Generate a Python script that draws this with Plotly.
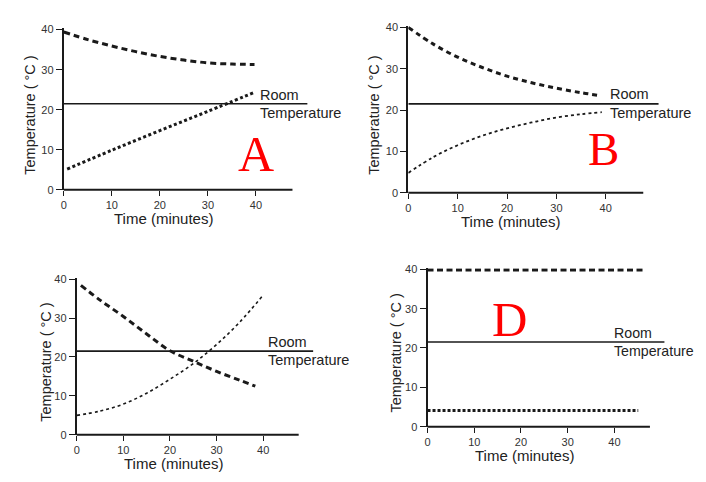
import plotly.graph_objects as go

# ---------------- data ----------------
room_temp = 21.5
room_t = [0, 50.7]

# Panel A
a_hot_t = [0, 5, 10, 15, 20, 25, 30, 35, 39.7]
a_hot_v = [39.4, 37.5, 35.9, 34.5, 33.3, 32.4, 31.7, 31.4, 31.3]
a_cold_t = [0.7, 10, 20, 30, 39.8]
a_cold_v = [5.2, 9.9, 14.8, 19.6, 24.4]

# Panel B
b_hot_t = [0, 5, 10, 15, 20, 25, 30, 35, 38.9]
b_hot_v = [40.0, 36.0, 32.8, 30.3, 28.2, 26.6, 25.3, 24.2, 23.5]
b_cold_t = [0, 5, 10, 15, 20, 25, 30, 35, 39.2]
b_cold_v = [4.8, 8.6, 11.5, 13.8, 15.6, 17.0, 18.2, 19.0, 19.5]

# Panel C
c_hot_t = [0.9, 5, 10, 15, 20, 25, 30, 35, 38.3]
c_hot_v = [38.4, 34.6, 30.4, 25.9, 21.6, 18.9, 16.3, 14.0, 12.5]
c_cold_t = [0, 5, 10, 15, 20, 25, 30, 35, 40]
c_cold_v = [5.0, 6.1, 7.9, 10.7, 14.3, 18.3, 23.2, 29.0, 35.9]

# Panel D
d_hot_t = [0, 46.2]
d_hot_v = [39.8, 39.8]
d_cold_t = [0, 45.1]
d_cold_v = [4.1, 4.1]

x_ticks = [0, 10, 20, 30, 40]
y_ticks = [0, 10, 20, 30, 40]
x_range = [0, 51]
y_range = [0, 40.3]
x_axis_end = 47.6

# ---------------- layout helpers ----------------
OFF = 8  # page body margin
W, H = 706, 482
# pixel geometry of each panel: (x0 px, px per unit x, y0 px, px per unit y)
panels = {
    "A": (61.0, 4.825, 189.0, 4.10),
    "B": (407.0, 4.957, 192.0, 4.2325),
    "C": (74.0, 4.683, 439.7, 3.985),
    "D": (426.3, 4.6925, 431.3, 4.025),
}
letter_pos = {"A": (40.0, 9.0, 50), "B": (39.5, 10.6, 47), "C": (52.0, 34.3, 50), "D": (17.6, 27.2, 49)}
ytitle_shift = {"A": -34, "B": -34, "C": -31, "D": -31}
# room-label nudge (px) and size per panel; D sits at the right page edge
room_label = {"A": (0, 14.5), "B": (0, 14.5), "C": (0, 14.5), "D": (-5, 14.2)}

series = {
    "A": ((a_hot_t, a_hot_v, 3, "6px,4px"), (a_cold_t, a_cold_v, 3, "3px,2.5px")),
    "B": ((b_hot_t, b_hot_v, 3, "5px,4px"), (b_cold_t, b_cold_v, 1.8, "3px,3px")),
    "C": ((c_hot_t, c_hot_v, 3, "6px,4px"), (c_cold_t, c_cold_v, 1.6, "3px,3px")),
    "D": ((d_hot_t, d_hot_v, 3, "6px,3.5px"), (d_cold_t, d_cold_v, 3, "3px,2px")),
}

FONT = "Liberation Sans, Arial, sans-serif"
INK = "#1a1a1a"

fig = go.Figure()
layout = dict(
    width=W, height=H, margin=dict(l=0, r=0, t=0, b=0),
    paper_bgcolor="white", plot_bgcolor="white", showlegend=False,
    font=dict(family=FONT, color="#222"),
)
annotations = []
shapes = []

for i, key in enumerate(["A", "B", "C", "D"]):
    n = i + 1
    xa = "x" if n == 1 else f"x{n}"
    ya = "y" if n == 1 else f"y{n}"
    x0px, sx, y0px, sy = panels[key]
    x0px -= OFF
    y0px -= OFF
    xd = [x0px / W, (x0px + (x_range[1] - x_range[0]) * sx) / W]
    yd = [1 - y0px / H, 1 - (y0px - (y_range[1] - y_range[0]) * sy) / H]

    layout["xaxis" if n == 1 else f"xaxis{n}"] = dict(
        domain=xd, range=x_range, anchor=ya, tickvals=x_ticks,
        showgrid=False, zeroline=False, showline=False,
        ticks="outside", ticklen=5, tickwidth=1, tickcolor=INK,
        tickfont=dict(size=11, color="#333", family=FONT), fixedrange=True,
    )
    layout["yaxis" if n == 1 else f"yaxis{n}"] = dict(
        domain=yd, range=y_range, anchor=xa, tickvals=y_ticks,
        showgrid=False, zeroline=False, showline=True, linewidth=2, linecolor=INK,
        ticks="outside", ticklen=6, tickwidth=1, tickcolor=INK,
        tickfont=dict(size=11, color="#333", family=FONT), fixedrange=True,
    )
    # x axis line that stops before the room-temperature line ends
    shapes.append(dict(
        type="line", xref=f"{xa} domain", yref=f"{ya} domain",
        x0=0, x1=(x_axis_end - x_range[0]) / (x_range[1] - x_range[0]), y0=0, y1=0,
        line=dict(color=INK, width=2), layer="above",
    ))

    # room temperature
    fig.add_trace(go.Scatter(x=room_t, y=[room_temp, room_temp], mode="lines",
                             line=dict(color=INK, width=1.6), xaxis=xa, yaxis=ya))
    for t, v, w, dash in series[key]:
        fig.add_trace(go.Scatter(x=t, y=v, mode="lines", line_shape="spline",
                                 line=dict(color=INK, width=w, dash=dash),
                                 xaxis=xa, yaxis=ya))

    # labels
    rshift, rsize = room_label[key]
    annotations.append(dict(text="Room", x=40.5, y=23.8, xref=xa, yref=ya, xshift=rshift,
                            xanchor="left", yanchor="middle", showarrow=False,
                            font=dict(size=rsize, color="#222", family=FONT)))
    annotations.append(dict(text="Temperature", x=40.5, y=19.3, xref=xa, yref=ya, xshift=rshift,
                            xanchor="left", yanchor="middle", showarrow=False,
                            font=dict(size=rsize, color="#222", family=FONT)))
    annotations.append(dict(text="Time (minutes)", x=20.7, y=0, xref=xa, yref=f"{ya} domain",
                            yshift=-29, xanchor="center", yanchor="middle", showarrow=False,
                            font=dict(size=15, color="#222", family=FONT)))
    annotations.append(dict(text="Temperature ( °C )", x=0, y=18.7, xref=f"{xa} domain", yref=ya,
                            xshift=ytitle_shift[key], textangle=-90, xanchor="center",
                            yanchor="middle", showarrow=False,
                            font=dict(size=14.5, color="#222", family=FONT)))
    lx, ly, ls = letter_pos[key]
    annotations.append(dict(text=key, x=lx, y=ly, xref=xa, yref=ya,
                            xanchor="center", yanchor="middle", showarrow=False,
                            font=dict(size=ls, color="#ff0000",
                                      family="Liberation Serif, Times New Roman, serif")))

layout["annotations"] = annotations
layout["shapes"] = shapes
fig.update_layout(**layout)
fig.write_html("out.html")
